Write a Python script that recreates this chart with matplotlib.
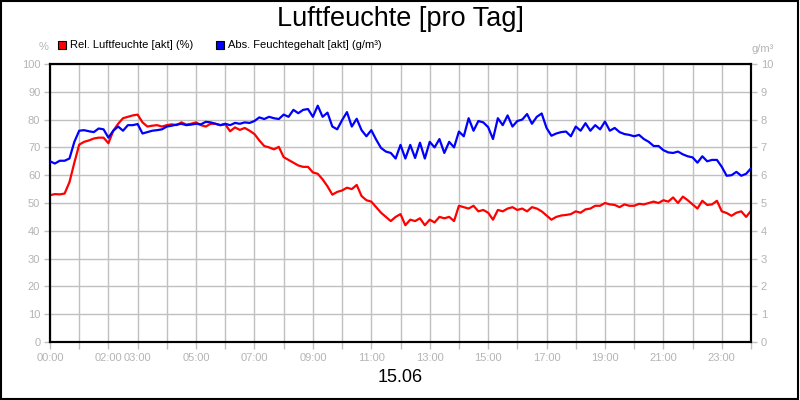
import numpy as np
import matplotlib
matplotlib.use("Agg")
import matplotlib.pyplot as plt
from matplotlib.patches import Rectangle

plt.rcParams['font.family'] = ['Liberation Sans', 'DejaVu Sans']

title = "Luftfeuchte [pro Tag]"
date_label = "15.06"
label_rel = "Rel. Luftfeuchte [akt] (%)"
label_abs = "Abs. Feuchtegehalt [akt] (g/m³)"

# 10-minute samples, 00:00 .. 24:00
rel_humidity = [
    52.8, 53.2, 53.1, 53.4, 57.5, 64.5,
    71.0, 72.0, 72.5, 73.2, 73.5, 73.5,
    71.5, 76.0, 78.5, 80.5, 81.0, 81.5,
    81.8, 79.0, 77.5, 77.8, 78.0, 77.5,
    78.0, 78.3, 78.0, 79.0, 78.2, 78.5,
    79.0, 78.0, 77.5, 78.5, 78.5, 78.0,
    78.3, 75.8, 77.2, 76.3, 77.0, 76.0,
    74.8, 72.5, 70.5, 70.0, 69.3, 70.2,
    66.5, 65.5, 64.5, 63.5, 63.0, 63.0,
    61.0, 60.5, 58.5, 56.0, 53.0, 54.0,
    54.5, 55.5, 55.0, 56.5, 52.5, 51.0,
    50.5, 48.5, 46.5, 45.0, 43.5, 45.0,
    46.0, 42.0, 44.0, 43.5, 44.5, 42.0,
    44.0, 43.0, 45.0, 44.5, 45.0, 43.5,
    49.0, 48.5, 48.0, 49.0, 47.0, 47.5,
    46.5, 44.0, 47.5, 47.0, 48.0, 48.5,
    47.5, 48.0, 47.0, 48.5, 48.0, 47.0,
    45.5, 44.0, 45.0, 45.5, 45.7, 46.0,
    47.0, 46.5, 47.7, 48.0, 49.0, 49.0,
    50.0, 49.5, 49.3, 48.5, 49.5, 49.0,
    49.0, 49.7, 49.5, 50.0, 50.5, 50.0,
    51.0, 50.5, 52.0, 50.0, 52.3, 51.0,
    49.5, 48.0, 50.8, 49.3, 49.5, 50.8,
    47.0, 46.4, 45.4, 46.5, 47.0, 45.0,
    47.2,
]

abs_humidity = [
    6.50, 6.42, 6.52, 6.52, 6.60, 7.20,
    7.60, 7.62, 7.58, 7.55, 7.68, 7.65,
    7.35, 7.60, 7.75, 7.60, 7.80, 7.80,
    7.84, 7.50, 7.55, 7.60, 7.62, 7.65,
    7.75, 7.78, 7.82, 7.85, 7.80, 7.82,
    7.85, 7.83, 7.92, 7.90, 7.85, 7.80,
    7.85, 7.80, 7.88, 7.85, 7.90, 7.88,
    7.95, 8.08, 8.02, 8.10, 8.05, 8.02,
    8.18, 8.10, 8.35, 8.23, 8.35, 8.38,
    8.10, 8.50, 8.10, 8.25, 7.75, 7.65,
    7.98, 8.27, 7.75, 8.03, 7.62, 7.40,
    7.62, 7.28, 6.98, 6.85, 6.80, 6.60,
    7.09, 6.60, 7.09, 6.62, 7.17, 6.60,
    7.20, 7.00, 7.30, 6.80, 7.20, 7.00,
    7.57, 7.40, 8.05, 7.60, 7.95, 7.90,
    7.73, 7.30, 8.05, 7.80, 8.15, 7.75,
    7.95, 8.00, 8.20, 7.85, 8.10, 8.22,
    7.70, 7.42, 7.50, 7.55, 7.57, 7.40,
    7.75, 7.60, 7.87, 7.60, 7.80, 7.65,
    7.93, 7.60, 7.70, 7.55, 7.48, 7.45,
    7.40, 7.45, 7.30, 7.20, 7.05, 7.05,
    6.90, 6.82, 6.80, 6.85, 6.75, 6.68,
    6.64, 6.45, 6.68, 6.50, 6.55, 6.55,
    6.30, 5.98, 6.00, 6.12, 5.98, 6.05,
    6.25,
]

tick_hours = [0, 2, 3, 5, 7, 9, 11, 13, 15, 17, 19, 21, 23]
tick_labels = ["00:00", "02:00", "03:00", "05:00", "07:00", "09:00", "11:00",
               "13:00", "15:00", "17:00", "19:00", "21:00", "23:00"]

hours = np.arange(len(rel_humidity)) / 6.0

GRAY_TXT = "#b4b4b4"
GRID = "#c0c0c0"

fig = plt.figure(figsize=(8, 4), dpi=100)
fig.patch.set_facecolor("white")
ax = fig.add_axes([0.0625, 0.145, 0.87625, 0.695])
ax2 = ax.twinx()

ax.plot(hours, rel_humidity, color="#ff0000", lw=1.6, zorder=3)
ax2.plot(hours, abs_humidity, color="#0000ff", lw=1.6, zorder=3)

ax.set_xlim(0, 24)
ax.set_ylim(0, 100)
ax2.set_ylim(0, 10)

ax.set_yticks(np.arange(0, 101, 10))
ax2.set_yticks(np.arange(0, 11, 1))
ax.set_xticks(tick_hours)
ax.set_xticklabels(tick_labels)
ax.set_xticks(np.arange(0, 25, 1), minor=True)

ax.grid(True, which="both", axis="x", color=GRID, lw=1)
ax.grid(True, which="major", axis="y", color=GRID, lw=1)
ax.set_axisbelow(True)

for a in (ax, ax2):
    for s in a.spines.values():
        s.set_color("black")
        s.set_linewidth(1.5)
ax.tick_params(axis="both", which="both", colors=GRID, labelcolor=GRAY_TXT,
               labelsize=8, length=4, width=1, pad=3)
ax.tick_params(axis="x", which="both", length=5)
ax2.tick_params(axis="y", colors=GRID, labelcolor=GRAY_TXT, labelsize=8,
                length=4, width=1, pad=3)

fig.text(0.5, 0.952, title, ha="center", va="center", fontsize=19.5, color="black")
fig.text(0.5, 0.055, date_label, ha="center", va="center", fontsize=13, color="black")
fig.text(0.054, 0.882, "%", ha="center", va="center", fontsize=8, color=GRAY_TXT)
fig.text(0.953, 0.877, "g/m³", ha="center", va="center", fontsize=8, color=GRAY_TXT)

# legend
fig.patches.append(Rectangle((58 / 800, 1 - 49 / 400), 8 / 800, 8 / 400,
                             transform=fig.transFigure, facecolor="#ff0000",
                             edgecolor="black", lw=0.8))
fig.text(70 / 800, 1 - 45 / 400, label_rel, ha="left", va="center", fontsize=8, color="black")
fig.patches.append(Rectangle((216 / 800, 1 - 49 / 400), 8 / 800, 8 / 400,
                             transform=fig.transFigure, facecolor="#0000ff",
                             edgecolor="black", lw=0.8))
fig.text(228 / 800, 1 - 45 / 400, label_abs, ha="left", va="center", fontsize=8, color="black")

# outer border
fig.patches.append(Rectangle((0.001, 0.002), 0.997, 0.996, transform=fig.transFigure,
                             fill=False, edgecolor="black", lw=1.5))

fig.savefig("out.png", dpi=100)
